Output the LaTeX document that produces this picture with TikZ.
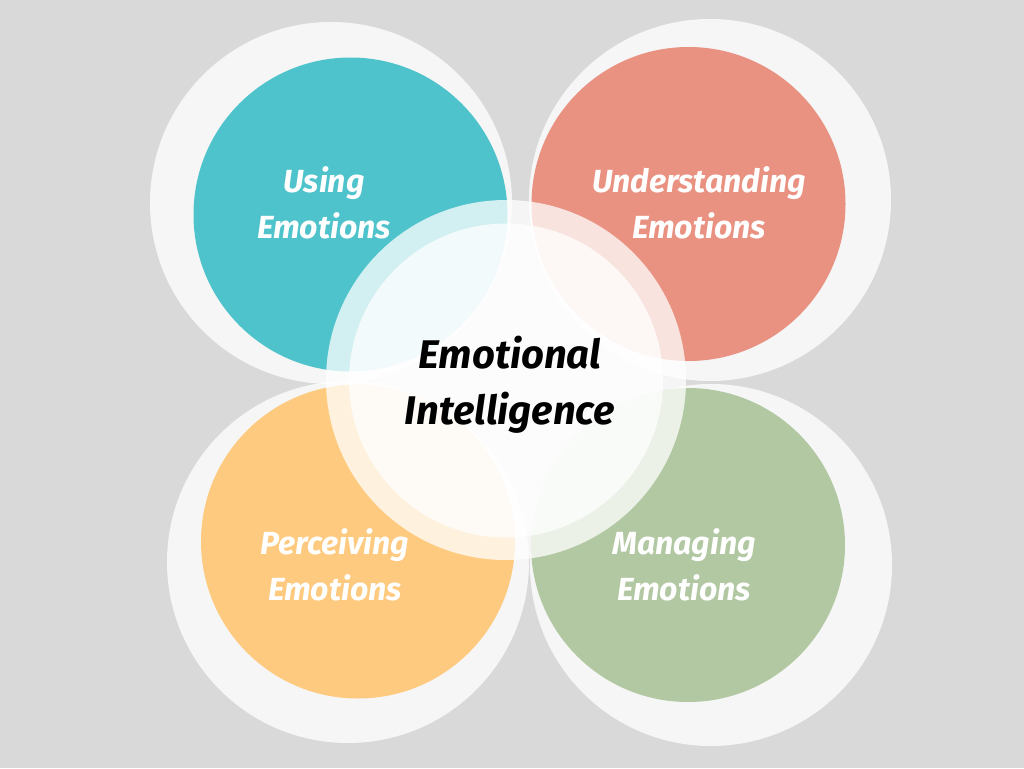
\documentclass[tikz,border=0pt]{standalone}
\usepackage{fontspec}
\setmainfont{Fira Sans}
\begin{document}
\begin{tikzpicture}[x=1pt,y=-1pt,
  ring/.style={circle,fill=white,fill opacity=0.78,draw=none,minimum size=362pt,inner sep=0pt},
  disc/.style={circle,draw=none,minimum size=314pt,inner sep=0pt},
  lbl/.style={text=white,align=center,font=\fontsize{32}{46}\selectfont\bfseries\itshape},
  clbl/.style={text=black,align=center,font=\fontsize{40}{56}\selectfont\bfseries\itshape}]
\definecolor{bg}{HTML}{D9D9D9}
\definecolor{cteal}{HTML}{4FC3CB}
\definecolor{csalmon}{HTML}{E99282}
\definecolor{corange}{HTML}{FECA7F}
\definecolor{cgreen}{HTML}{B2C8A2}
\fill[bg] (0,0) rectangle (1024,768);
\useasboundingbox (0,0) rectangle (1024,768);
% outer rings
\node[ring] (rTL) at (331,203) {};
\node[ring] (rTR) at (710,200) {};
\node[ring] (rBL) at (348,562) {};
\node[ring] (rBR) at (711,565) {};
% coloured discs
\node[disc,fill=cteal] (dTL) at (350.5,214.5) {};
\node[disc,fill=csalmon] (dTR) at (688.5,204) {};
\node[disc,fill=corange] (dBL) at (358,541.5) {};
\node[disc,fill=cgreen] (dBR) at (688,545) {};
% centre
\node[circle,fill=white,fill opacity=0.75,minimum size=360pt,inner sep=0pt] (cRing) at (506,380) {};
\node[circle,fill=white,fill opacity=0.75,minimum size=314pt,inner sep=0pt] (cDisc) at (506,380.5) {};
% labels
\node[lbl] (tTL) at (324,203) {Using\\Emotions};
\node[lbl] (tTR) at (699,203) {Understanding\\Emotions};
\node[lbl] (tBL) at (335,565) {Perceiving\\Emotions};
\node[lbl] (tBR) at (684,565) {Managing\\Emotions};
\node[clbl] (tC) at (510,385) {Emotional\\Intelligence};
\end{tikzpicture}
\end{document}
